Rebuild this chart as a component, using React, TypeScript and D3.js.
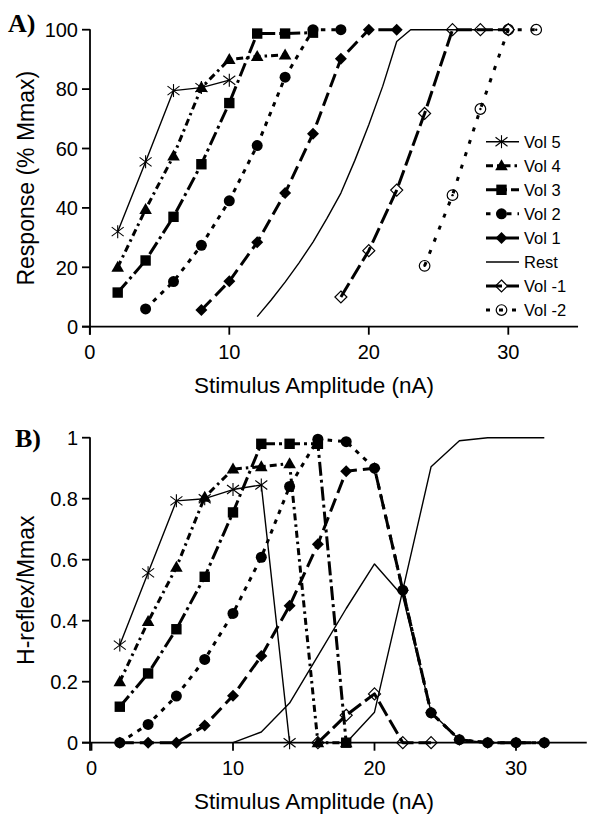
import React from 'react';
import * as d3 from 'd3';

type P = [number, number];

// ---------- Panel A : Response (% Mmax) ----------
const vol5A: P[] = [[2, 32], [4, 55.5], [6, 79.5], [8, 80.5], [10, 83]];
const vol4A: P[] = [[2, 20], [4, 39.5], [6, 57.5], [8, 80.5], [10, 90], [12, 91], [14, 91.5]];
const vol3A: P[] = [[2, 11.5], [4, 22.3], [6, 37], [8, 54.7], [10, 75.3], [12, 98.7], [14, 98.7], [16, 99]];
const vol2A: P[] = [[4, 6], [6, 15.2], [8, 27.4], [10, 42.4], [12, 61], [14, 84], [16, 100], [18, 100]];
const vol1A: P[] = [[8, 5.6], [10, 15.3], [12, 28.4], [14, 45], [16, 65], [18, 90.2], [20, 100], [22, 100]];
const restA: P[] = [[12, 3.4], [13, 9], [14, 15], [15, 21.5], [16, 28.5], [17, 36.5], [18, 45], [19, 56], [20, 68], [21, 81], [22, 96], [23, 100], [26, 100], [30, 100]];
const volM1A: P[] = [[18, 10], [20, 25.6], [22, 46], [24, 71.8], [26, 100], [28, 100], [30, 100]];
const volM2A: P[] = [[24, 20.5], [26, 44.3], [28, 73.3], [30, 100], [32, 100]];

// ---------- Panel B : H-reflex / Mmax ----------
const vol5B: P[] = [[2, 0.32], [4, 0.557], [6, 0.793], [8, 0.8], [10, 0.83], [12, 0.845], [14, 0]];
const vol4B: P[] = [[2, 0.2], [4, 0.397], [6, 0.575], [8, 0.805], [10, 0.897], [12, 0.905], [14, 0.915], [16, 0], [18, 0]];
const vol3B: P[] = [[2, 0.118], [4, 0.227], [6, 0.372], [8, 0.544], [10, 0.755], [12, 0.98], [14, 0.98], [16, 0.98], [18, 0]];
const vol2B: P[] = [[2, 0], [4, 0.06], [6, 0.153], [8, 0.273], [10, 0.424], [12, 0.608], [14, 0.84], [16, 0.995], [18, 0.987], [20, 0.9], [22, 0.5], [24, 0.098], [26, 0.01], [28, 0], [30, 0], [32, 0]];
const vol1B: P[] = [[2, 0], [4, 0], [6, 0], [8, 0.056], [10, 0.154], [12, 0.284], [14, 0.449], [16, 0.651], [18, 0.89], [20, 0.9], [22, 0.5], [24, 0.098], [26, 0.01], [28, 0], [30, 0], [32, 0]];
const restB: P[] = [[10, 0], [12, 0.035], [14, 0.13], [16, 0.285], [18, 0.44], [20, 0.586], [22, 0.48], [24, 0.1], [26, 0.01], [28, 0], [30, 0], [32, 0]];
const mwaveB: P[] = [[18, 0], [20, 0.1], [22, 0.5], [24, 0.905], [26, 0.99], [28, 1], [30, 1], [32, 1]];
const volM1B: P[] = [[16, 0], [18, 0.09], [20, 0.16], [22, 0], [24, 0]];

// ---------- ticks & labels ----------
const xTicks = [0, 10, 20, 30];
const yTicksA = [0, 20, 40, 60, 80, 100];
const yTicksB = [0, 0.2, 0.4, 0.6, 0.8, 1];
const yTickLabelsB = ['0', '0.2', '0.4', '0.6', '0.8', '1'];
const xTitle = 'Stimulus Amplitude (nA)';
const yTitleA = 'Response (% Mmax)';
const yTitleB = 'H-reflex/Mmax';

type MarkerType = 'asterisk' | 'triangle' | 'square' | 'circle' | 'diamond' | 'none' | 'odiamond' | 'ocircle';
interface Style { name: string; marker: MarkerType; width: number; dash: string | null; }

const styles: Record<string, Style> = {
  vol5: { name: 'Vol 5', marker: 'asterisk', width: 1.4, dash: null },
  vol4: { name: 'Vol 4', marker: 'triangle', width: 3, dash: '7,4,2.5,4' },
  vol3: { name: 'Vol 3', marker: 'square', width: 3, dash: '14,4,3,4' },
  vol2: { name: 'Vol 2', marker: 'circle', width: 3, dash: '4.5,6' },
  vol1: { name: 'Vol 1', marker: 'diamond', width: 3, dash: '14,6' },
  rest: { name: 'Rest', marker: 'none', width: 1.4, dash: null },
  volM1: { name: 'Vol -1', marker: 'odiamond', width: 3, dash: '16,5' },
  volM2: { name: 'Vol -2', marker: 'ocircle', width: 3, dash: '4,9' },
};
const legendOrder = ['vol5', 'vol4', 'vol3', 'vol2', 'vol1', 'rest', 'volM1', 'volM2'];

const FONT = '"Liberation Sans", Arial, Helvetica, sans-serif';

function Marker({ type, x, y }: { type: MarkerType; x: number; y: number }) {
  switch (type) {
    case 'asterisk':
      return (
        <g stroke="#000" strokeWidth={1.1}>
          <line x1={x} y1={y - 6.5} x2={x} y2={y + 6.5} />
          <line x1={x - 6} y1={y - 4.5} x2={x + 6} y2={y + 4.5} />
          <line x1={x - 6} y1={y + 4.5} x2={x + 6} y2={y - 4.5} />
        </g>
      );
    case 'triangle':
      return <path d={`M${x},${y - 6.5}L${x + 6.3},${y + 4.5}L${x - 6.3},${y + 4.5}Z`} fill="#000" />;
    case 'square':
      return <rect x={x - 5.2} y={y - 5.2} width={10.4} height={10.4} fill="#000" />;
    case 'circle':
      return <circle cx={x} cy={y} r={5.5} fill="#000" />;
    case 'diamond':
      return <path d={`M${x},${y - 6}L${x + 6},${y}L${x},${y + 6}L${x - 6},${y}Z`} fill="#000" />;
    case 'odiamond':
      return <path d={`M${x},${y - 6}L${x + 6},${y}L${x},${y + 6}L${x - 6},${y}Z`} fill="none" stroke="#000" strokeWidth={1.2} />;
    case 'ocircle':
      return (
        <g>
          <circle cx={x} cy={y} r={5.3} fill="none" stroke="#000" strokeWidth={1.2} />
          <circle cx={x} cy={y} r={1.2} fill="#000" />
        </g>
      );
    default:
      return null;
  }
}

interface PanelProps {
  top: number; bottom: number; x0: number; x1: number;
  yMax: number; yTicks: number[]; yLabels: string[];
  series: { key: string; data: P[]; thin?: boolean }[];
  yTitle: string; label: string; labelX: number; labelY: number;
}

function Panel(p: PanelProps) {
  const x = d3.scaleLinear().domain([0, 35]).range([p.x0, p.x1]);
  const y = d3.scaleLinear().domain([0, p.yMax]).range([p.bottom, p.top]);
  const line = d3.line<P>().x(d => x(d[0])).y(d => y(d[1]));
  const axisX = 90;
  return (
    <g>
      <text x={p.labelX} y={p.labelY} fontFamily='"Liberation Serif", "Times New Roman", serif' fontWeight="bold" fontSize={26}>{p.label}</text>
      <line x1={axisX} y1={y(p.yMax) - 0.5} x2={axisX} y2={p.bottom + 8} stroke="#000" strokeWidth={1.8} />
      <line x1={axisX - 8} y1={p.bottom} x2={x(35)} y2={p.bottom} stroke="#000" strokeWidth={1.8} />
      {p.yTicks.map((t, i) => (
        <g key={'y' + i}>
          <line x1={axisX - 8} x2={axisX} y1={y(t)} y2={y(t)} stroke="#000" strokeWidth={1.8} />
          <text x={78} y={y(t) + 7.2} textAnchor="end" fontFamily={FONT} fontSize={20}>{p.yLabels[i]}</text>
        </g>
      ))}
      {xTicks.map(t => (
        <g key={'x' + t}>
          <line x1={x(t)} x2={x(t)} y1={p.bottom} y2={p.bottom + 8} stroke="#000" strokeWidth={1.8} />
          <text x={x(t)} y={p.bottom + 32} textAnchor="middle" fontFamily={FONT} fontSize={20}>{t}</text>
        </g>
      ))}
      <text x={314} y={p.bottom + 66} textAnchor="middle" fontFamily={FONT} fontSize={22.5}>{xTitle}</text>
      <text transform={`translate(34,${(p.top + p.bottom) / 2}) rotate(-90)`} textAnchor="middle" fontFamily={FONT} fontSize={23}>{p.yTitle}</text>
      {p.series.map((s, i) => {
        const st = styles[s.key];
        return (
          <g key={'s' + i}>
            <path d={line(s.data) || ''} fill="none" stroke="#000" strokeWidth={s.thin ? 1.4 : st.width}
              strokeDasharray={s.thin ? undefined : st.dash || undefined} strokeLinejoin="round" />
            {!s.thin && s.data.map((d, j) => <Marker key={j} type={st.marker} x={x(d[0])} y={y(d[1])} />)}
          </g>
        );
      })}
    </g>
  );
}

export default function App() {
  const legX0 = 486, legX1 = 519, legY0 = 141.7, legStep = 24.05;
  return (
    <svg width={599} height={824} style={{ position: 'absolute', left: 0, top: 0, background: '#fff' }}>
      <rect width={599} height={824} fill="#fff" />
      <Panel top={29.7} bottom={326.7} x0={89.8} x1={89.8 + 35 * 13.95} yMax={100}
        yTicks={yTicksA} yLabels={yTicksA.map(String)}
        series={[
          { key: 'volM2', data: volM2A }, { key: 'volM1', data: volM1A }, { key: 'rest', data: restA },
          { key: 'vol1', data: vol1A }, { key: 'vol4', data: vol4A }, { key: 'vol3', data: vol3A },
          { key: 'vol2', data: vol2A }, { key: 'vol5', data: vol5A },
        ]}
        yTitle={yTitleA} label="A)" labelX={8} labelY={32} />
      <Panel top={437.7} bottom={742.7} x0={91.5} x1={91.5 + 35 * 14.15} yMax={1}
        yTicks={yTicksB} yLabels={yTickLabelsB}
        series={[
          { key: 'volM1', data: volM1B }, { key: 'rest', data: restB }, { key: 'rest', data: mwaveB },
          { key: 'vol1', data: vol1B }, { key: 'vol4', data: vol4B }, { key: 'vol3', data: vol3B },
          { key: 'vol2', data: vol2B }, { key: 'vol5', data: vol5B },
        ]}
        yTitle={yTitleB} label="B)" labelX={15} labelY={447} />
      {legendOrder.map((k, i) => {
        const st = styles[k];
        const yy = legY0 + i * legStep;
        return (
          <g key={k}>
            <line x1={legX0} x2={legX1} y1={yy} y2={yy} stroke="#000" strokeWidth={st.width} strokeDasharray={st.dash || undefined} />
            <Marker type={st.marker} x={(legX0 + legX1) / 2 - 1} y={yy} />
            <text x={524} y={yy + 6} fontFamily={FONT} fontSize={16.5}>{st.name}</text>
          </g>
        );
      })}
    </svg>
  );
}
